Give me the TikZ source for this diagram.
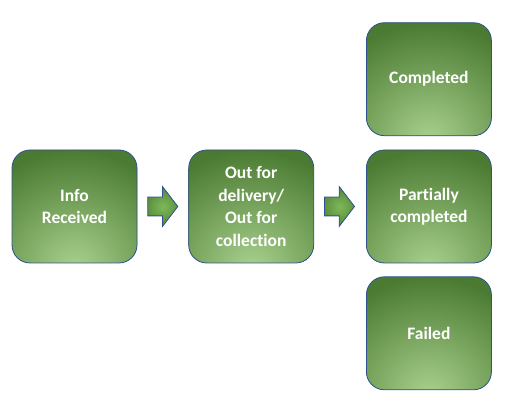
\documentclass[tikz,border=0pt]{standalone}
\usepackage{fontspec}
\setmainfont{Carlito}[Ligatures=NoCommon]
\usepackage{tikz}
\usetikzlibrary{positioning,shapes.arrows}

\definecolor{glowdark}{HTML}{4B7B32}
\definecolor{glowmid}{HTML}{7DB85A}
\definecolor{glowlight}{HTML}{A9D18E}
\definecolor{edgeblue}{HTML}{2F528F}

\begin{document}
\begin{tikzpicture}[
    x=1pt, y=1pt,
    glow/.style={fill=glowdark, draw=edgeblue, line width=0.8pt,
      path picture={\shade[inner color=glowlight, outer color=glowdark]
        ([yshift=-6pt]path picture bounding box.south) circle (#1);}},
    stage/.style={glow=118pt, rounded corners=18pt, minimum width=125pt, minimum height=113pt,
      align=center, text=white, font=\fontsize{17.5}{22.5}\selectfont\bfseries, inner sep=0pt},
    flow/.style={fill=glowdark, draw=edgeblue, line width=0.8pt,
      path picture={\shade[inner color=glowmid, outer color=glowdark]
        (path picture bounding box.center) circle (24pt);},
      single arrow, single arrow head extend=10.5pt, single arrow tip angle=105,
      inner xsep=0pt, inner ysep=9pt, minimum height=30pt}
  ]
    \useasboundingbox (0,0) rectangle (507,409);
    \node[stage] (info) at (74.5,202.5) {Info\\Received};
    \node[flow, right=10pt of info] (arrA) {};
    \node[stage, right=10pt of arrA] (out) {Out for\\delivery/\\Out for\\collection};
    \node[flow, right=10pt of out] (arrB) {};
    \node[stage, right=11pt of arrB] (partial) {Partially\\completed};
    \node[stage, above=13.5pt of partial] (done) {Completed};
    \node[stage, below=13pt of partial] (failed) {Failed};
  \end{tikzpicture}
\end{document}
